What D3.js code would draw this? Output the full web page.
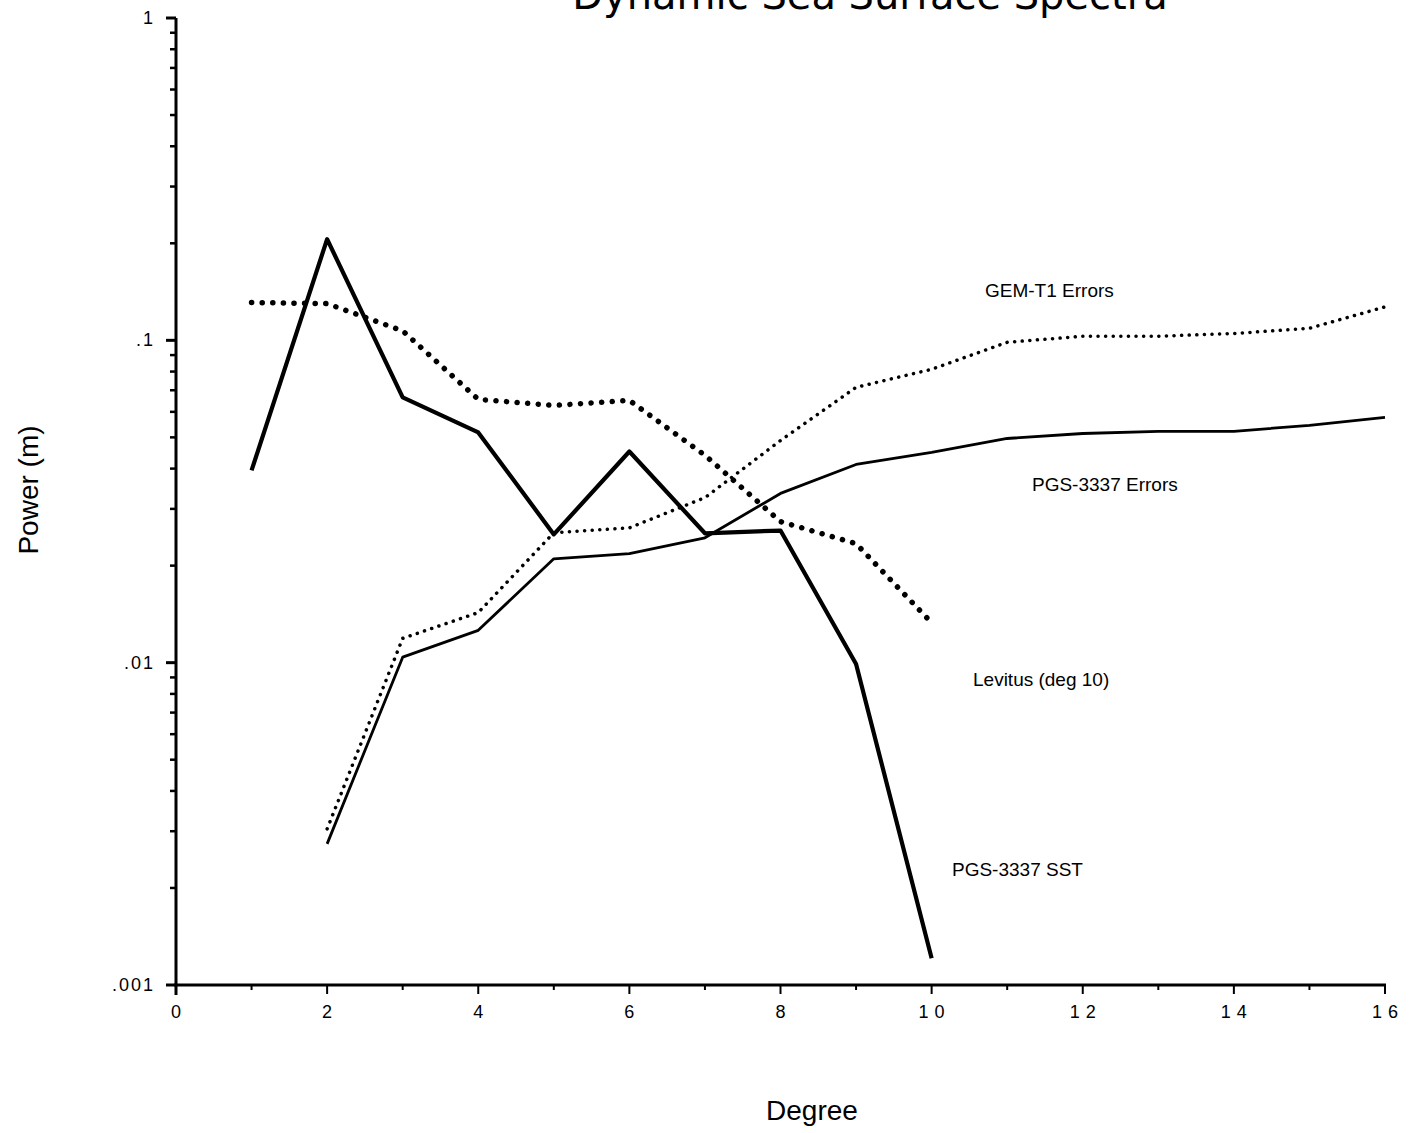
<!DOCTYPE html>
<html>
<head>
<meta charset="utf-8">
<script src="https://cdn.jsdelivr.net/npm/d3@7"></script>
<style>
  body { margin: 0; background: #fff; }
  svg text { font-family: "Liberation Sans", Arial, sans-serif; fill: #000; }
</style>
</head>
<body>
<svg id="chart"></svg>
<script>
// degree values
var degreesSST = [1, 2, 3, 4, 5, 6, 7, 8, 9, 10];
var degreesErr = [2, 3, 4, 5, 6, 7, 8, 9, 10, 11, 12, 13, 14, 15, 16];

// power (m)
var sstValues = [0.0395, 0.206, 0.0665, 0.0518, 0.025, 0.0452, 0.0252, 0.0257, 0.0099, 0.00121];
var levitusValues = [0.131, 0.130, 0.107, 0.0656, 0.0628, 0.0651, 0.044, 0.0274, 0.0234, 0.0133];
var gemValues = [0.00305, 0.0119, 0.0143, 0.0253, 0.0262, 0.0325, 0.0489, 0.0715, 0.0813, 0.0986, 0.103, 0.103, 0.105, 0.109, 0.127];
var pgsErrValues = [0.00274, 0.0104, 0.0126, 0.021, 0.0218, 0.0244, 0.0335, 0.0412, 0.0449, 0.0496, 0.0514, 0.0522, 0.0522, 0.0545, 0.0577];

var xTickLabels = ["0", "2", "4", "6", "8", "10", "12", "14", "16"];
var yTickLabels = [".001", ".01", ".1", "1"];

var drawChart = function(target)
{
    var screen = {width:1417, height:1133};
    var margins = {top:18, left:176, right:32, bottom:148};
    var graph = {
        width:screen.width-margins.left-margins.right,
        height:screen.height-margins.top-margins.bottom
    };

    var svg = d3.select(target)
        .attr("width",screen.width)
        .attr("height",screen.height);

    var xScale = d3.scaleLinear()
        .domain([0,16])
        .range([margins.left, margins.left+graph.width]);

    var yScale = d3.scaleLog()
        .domain([0.001,1])
        .range([margins.top+graph.height, margins.top]);

    // title (the scan cuts it off at the top)
    svg.append("text")
        .text("Dynamic Sea Surface Spectra")
        .attr("x",870)
        .attr("y",9)
        .attr("text-anchor","middle")
        .style("font-family","'DejaVu Sans', sans-serif")
        .style("font-size","40px");

    // x axis
    var bottom = margins.top+graph.height;
    svg.append("line")
        .attr("x1",xScale(0)-2).attr("x2",xScale(16)+1)
        .attr("y1",bottom).attr("y2",bottom)
        .attr("stroke","#000").attr("stroke-width",3);

    var xticks = d3.range(0,17);
    svg.selectAll(".xtick")
        .data(xticks)
        .enter()
        .append("line")
        .attr("x1",function(d){return xScale(d);})
        .attr("x2",function(d){return xScale(d);})
        .attr("y1",bottom)
        .attr("y2",function(d){return bottom+(d%2==0?9:5);})
        .attr("stroke","#000").attr("stroke-width",2);

    svg.selectAll(".xlabel")
        .data(xTickLabels)
        .enter()
        .append("text")
        .text(function(d){return d;})
        .attr("x",function(d){return xScale(+d);})
        .attr("y",bottom+33)
        .attr("text-anchor","middle")
        .style("font-size","18px")
        .style("letter-spacing",function(d){return d.length>1?"6px":"0px";})
        .attr("dx",function(d){return d.length>1?3:0;});

    // y axis
    svg.append("line")
        .attr("x1",xScale(0)).attr("x2",xScale(0))
        .attr("y1",margins.top).attr("y2",bottom+10)
        .attr("stroke","#000").attr("stroke-width",3);

    var minor = [];
    [0.001,0.01,0.1].forEach(function(dec){
        d3.range(2,10).forEach(function(k){ minor.push(dec*k); });
    });
    svg.selectAll(".yminor")
        .data(minor)
        .enter()
        .append("line")
        .attr("x1",xScale(0)-6).attr("x2",xScale(0))
        .attr("y1",function(d){return yScale(d);})
        .attr("y2",function(d){return yScale(d);})
        .attr("stroke","#000").attr("stroke-width",2.5);

    svg.selectAll(".ymajor")
        .data(yTickLabels)
        .enter()
        .append("line")
        .attr("x1",xScale(0)-10).attr("x2",xScale(0))
        .attr("y1",function(d){return yScale(+d);})
        .attr("y2",function(d){return yScale(+d);})
        .attr("stroke","#000").attr("stroke-width",3);

    svg.selectAll(".ylabel")
        .data(yTickLabels)
        .enter()
        .append("text")
        .text(function(d){return d;})
        .attr("x",xScale(0)-21)
        .attr("y",function(d){return yScale(+d)+6;})
        .attr("text-anchor","end")
        .style("font-size","18px")
        .style("letter-spacing","2px");

    // axis titles
    svg.append("g")
        .attr("transform","translate(38,"+490+")")
        .append("text")
        .text("Power (m)")
        .attr("text-anchor","middle")
        .attr("transform","rotate(-90)")
        .style("font-size","28px");

    svg.append("text")
        .text("Degree")
        .attr("x",812)
        .attr("y",1120)
        .attr("text-anchor","middle")
        .style("font-size","28px");

    // lines
    var line = d3.line()
        .x(function(d){return xScale(d[0]);})
        .y(function(d){return yScale(d[1]);});

    var series = [
        {x:degreesSST, y:levitusValues, width:5.5, dash:"0.1 10.5"},
        {x:degreesErr, y:gemValues, width:3.5, dash:"0.1 7.5"},
        {x:degreesErr, y:pgsErrValues, width:2.8, dash:null},
        {x:degreesSST, y:sstValues, width:4.2, dash:null}
    ];

    series.forEach(function(s){
        var pts = s.x.map(function(x,i){return [x,s.y[i]];});
        svg.append("path")
            .datum(pts)
            .attr("d",line)
            .attr("fill","none")
            .attr("stroke","#000")
            .attr("stroke-width",s.width)
            .attr("stroke-linecap", s.dash ? "round" : "butt")
            .attr("stroke-linejoin","round")
            .attr("stroke-dasharray",s.dash);
    });

    // series labels
    var labels = [
        {text:"GEM-T1 Errors", x:985, y:297},
        {text:"PGS-3337 Errors", x:1032, y:491},
        {text:"Levitus (deg 10)", x:973, y:686},
        {text:"PGS-3337 SST", x:952, y:876}
    ];
    svg.selectAll(".serieslabel")
        .data(labels)
        .enter()
        .append("text")
        .text(function(d){return d.text;})
        .attr("x",function(d){return d.x;})
        .attr("y",function(d){return d.y;})
        .style("font-size","19px");
};

drawChart("#chart");
</script>
</body>
</html>
